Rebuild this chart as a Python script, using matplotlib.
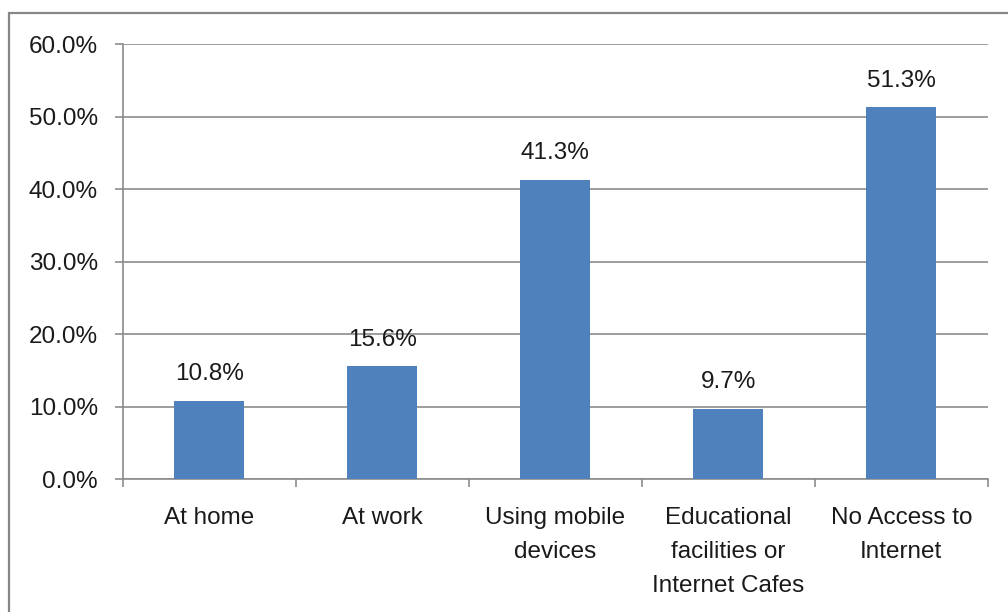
import matplotlib.pyplot as plt
from matplotlib.patches import Rectangle
from matplotlib.ticker import FuncFormatter, MultipleLocator

plt.rcParams['font.family'] = ['Liberation Sans', 'DejaVu Sans']

categories = ['At home', 'At work', 'Using mobile\ndevices',
              'Educational\nfacilities or\nInternet Cafes', 'No Access to\nInternet']
values = [10.8, 15.6, 41.3, 9.7, 51.3]

bar_color = '#4F81BD'
grid_color = '#8C8C8C'
fs = 17.5

fig = plt.figure(figsize=(10.08, 6.12), dpi=100)
ax = fig.add_axes([0.122, 0.2173, 0.858, 0.7108])

x = range(len(categories))
bars = ax.bar(x, values, width=0.405, color=bar_color, zorder=3)

for b, v in zip(bars, values):
    ax.annotate(f'{v:.1f}%', (b.get_x() + b.get_width() / 2, v),
                xytext=(0, 11), textcoords='offset points',
                ha='center', va='bottom', fontsize=fs, color='#1a1a1a')

ax.set_xlim(-0.5, len(categories) - 0.5)
ax.set_ylim(0, 60)
ax.yaxis.set_major_locator(MultipleLocator(10))
ax.yaxis.set_major_formatter(FuncFormatter(lambda v, p: f'{v:.1f}%'))
ax.grid(axis='y', color=grid_color, lw=1.2, zorder=0)

ax.set_xticks(list(x))
ax.set_xticklabels(categories, fontsize=fs, color='#1a1a1a', linespacing=1.7)
ax.set_xticks([i - 0.5 for i in range(len(categories) + 1)], minor=True)
ax.tick_params(axis='x', which='major', length=0, pad=20)
ax.tick_params(axis='x', which='minor', length=6, color=grid_color, width=1.2)
ax.tick_params(axis='y', length=6, color=grid_color, width=1.2, pad=12,
               labelsize=fs, labelcolor='#1a1a1a')

for side in ['top', 'right']:
    ax.spines[side].set_visible(False)
for side in ['left', 'bottom']:
    ax.spines[side].set_color(grid_color)
    ax.spines[side].set_linewidth(1.2)

# outer chart frame running off the right and bottom edges
fig.patches.append(Rectangle((0.0089, -0.1), 1.2, 1.0788, transform=fig.transFigure,
                             fill=False, ec='#868686', lw=1.6, clip_on=False))

fig.savefig('out.png', dpi=100)
